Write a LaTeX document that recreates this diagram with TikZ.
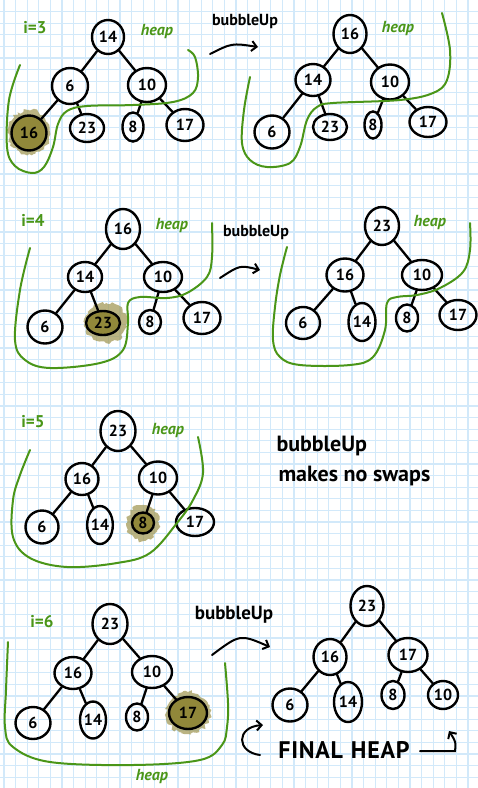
\documentclass[tikz,border=0pt]{standalone}
\usepackage{fontspec}
\setmainfont{PT Sans}
\usetikzlibrary{shapes.geometric,arrows.meta,decorations.pathmorphing}
\definecolor{gridblue}{RGB}{210,233,250}
\definecolor{heapgreen}{RGB}{74,150,24}
\definecolor{hlfill}{RGB}{145,136,58}
\definecolor{hlspray}{RGB}{158,148,78}
\tikzset{
  hn/.style 2 args={draw=black, line width=2.4pt, ellipse, inner sep=0pt,
    minimum width=#1pt, minimum height=#2pt, font=\bfseries\fontsize{16}{16}\selectfont},
  hot/.style={fill=hlfill},
  edge/.style={draw=black, line width=2.3pt, line cap=round},
  gridline/.style={draw=gridblue, line width=1.3pt},
  heapline/.style={draw=heapgreen, line width=2pt, line cap=round, line join=round},
  glabel/.style={text=heapgreen, font=\bfseries\fontsize{17}{17}\selectfont},
  hlabel/.style={text=heapgreen, font=\bfseries\itshape\fontsize{16}{16}\selectfont},
  note/.style={text=black, font=\bfseries\fontsize{16}{16}\selectfont},
  arr/.style={draw=black, line width=2pt, line cap=round,
    -{Straight Barb[length=5pt,width=10pt,line width=2pt]}},
  spray/.style={fill=hlspray, opacity=0.7, decorate,
    decoration={random steps, segment length=2.5pt, amplitude=1.8pt}},
}
\begin{document}
\pgfmathsetseed{7}
\begin{tikzpicture}[x=1pt, y=-1pt]
\useasboundingbox (0,0) rectangle (478,788);
% graph paper
\fill[white] (0,0) rectangle (478,788);
\foreach \k in {0,...,40} \draw[gridline] ({4+11.6*\k},0) -- ({4+11.6*\k},788);
\foreach \k in {1,...,67} \draw[gridline] (0,{11.6*\k}) -- (478,{11.6*\k});

% highlighter marks behind the newly inserted elements
\path[spray] (29,132) ellipse [x radius=21, y radius=22];
\path[spray] (106,323) ellipse [x radius=21, y radius=20];
\path[spray] (143,523) ellipse [x radius=16, y radius=18];
\path[spray] (188,713) ellipse [x radius=22, y radius=21];

% ---------- i = 3 ----------
\node[glabel] (l3) at (35,28) {i=3};
\node[hlabel] (h1) at (157,31) {heap};
\node[hn={32}{34}] (a14) at (108,37) {14};
\node[hn={36}{36}] (a6) at (70,86) {6};
\node[hn={38}{34}] (a10) at (147,85) {10};
\node[hn={35}{35},hot] (a16) at (29,133) {16};
\node[hn={34}{28}] (a23) at (87,128) {23};
\node[hn={21}{29}] (a8) at (133,127) {8};
\node[hn={37}{32}] (a17) at (185,125) {17};
\draw[edge] (a14) -- (a6);
\draw[edge] (a14) -- (a10);
\draw[edge] (a6) -- (a16);
\draw[edge] (a6) -- (a23);
\draw[edge] (a10) -- (a8);
\draw[edge] (a10) -- (a17);
\draw[heapline] plot[smooth, tension=0.6] coordinates {(20,65) (9,100) (7,147) (15,166) (32,173) (44,167) (53,147) (58,124) (67,111) (87,106) (133,105) (173,102) (193,93) (198,77) (195,57) (188,50)};

\node[note] (u1) at (245,21) {bubbleUp};
\coordinate (a1s) at (210,54);
\coordinate (a1e) at (258,47);
\draw[arr] (a1s) .. controls (232,43) .. (a1e);

\node[hlabel] (h2) at (398,28) {heap};
\node[hn={33}{38}] (b16) at (350,34) {16};
\node[hn={35}{32}] (b14) at (313,80) {14};
\node[hn={38}{35}] (b10) at (390,82) {10};
\node[hn={35}{33}] (b6) at (272,132) {6};
\node[hn={34}{26}] (b23) at (330,127) {23};
\node[hn={17}{27}] (b8) at (373,125) {8};
\node[hn={37}{30}] (b17) at (428,122) {17};
\draw[edge] (b16) -- (b14);
\draw[edge] (b16) -- (b10);
\draw[edge] (b14) -- (b6);
\draw[edge] (b14) -- (b23);
\draw[edge] (b10) -- (b8);
\draw[edge] (b10) -- (b17);
\draw[heapline] plot[smooth, tension=0.6] coordinates {(250,77) (244,110) (242,143) (250,160) (267,167) (290,163) (300,147) (307,120) (317,107) (333,103) (400,100) (433,93) (447,80) (450,50) (442,13)};

% ---------- i = 4 ----------
\node[glabel] (l4) at (33,220) {i=4};
\node[hlabel] (h3) at (172,225) {heap};
\node[hn={34}{40}] (c16) at (123,229) {16};
\node[hn={34}{30}] (c14) at (85,277) {14};
\node[hn={38}{30}] (c10) at (163,277) {10};
\node[hn={35}{33}] (c6) at (45,327) {6};
\node[hn={34}{24},hot] (c23) at (103,323) {23};
\node[hn={22}{24}] (c8) at (150,322) {8};
\node[hn={37}{32}] (c17) at (202,318) {17};
\draw[edge] (c16) -- (c14);
\draw[edge] (c16) -- (c10);
\draw[edge] (c14) -- (c6);
\draw[edge] (c14) -- (c23);
\draw[edge] (c10) -- (c8);
\draw[edge] (c10) -- (c17);
\draw[heapline] plot[smooth, tension=0.6] coordinates {(30,248) (20,290) (15,340) (25,360) (50,368) (100,363) (123,350) (128,323) (128,303) (140,297) (167,298) (187,293) (207,277) (212,257) (212,223)};

\node[note] (u2) at (256,232) {bubbleUp};
\coordinate (a2s) at (220,278);
\coordinate (a2e) at (260,270);
\draw[arr] (a2s) .. controls (240,265) .. (a2e);

\node[hlabel] (h4) at (430,222) {heap};
\node[hn={34}{38}] (d23) at (382,226) {23};
\node[hn={37}{33}] (d16) at (345,275) {16};
\node[hn={40}{30}] (d10) at (422,275) {10};
\node[hn={34}{32}] (d6) at (303,323) {6};
\node[hn={27}{38}] (d14) at (362,322) {14};
\node[hn={22}{27}] (d8) at (407,318) {8};
\node[hn={37}{30}] (d17) at (458,315) {17};
\draw[edge] (d23) -- (d16);
\draw[edge] (d23) -- (d10);
\draw[edge] (d16) -- (d6);
\draw[edge] (d16) -- (d14);
\draw[edge] (d10) -- (d8);
\draw[edge] (d10) -- (d17);
\draw[heapline] plot[smooth, tension=0.6] coordinates {(287,247) (280,275) (275,307) (273,340) (280,357) (300,365) (350,365) (373,357) (385,330) (387,303) (397,297) (417,295) (440,288) (463,272) (470,250) (470,223)};

% ---------- i = 5 ----------
\node[glabel] (l5) at (33,422) {i=5};
\node[hlabel] (h5) at (168,430) {heap};
\node[hn={35}{40}] (e23) at (118,431) {23};
\node[hn={33}{32}] (e16) at (82,479) {16};
\node[hn={38}{33}] (e10) at (158,478) {10};
\node[hn={33}{33}] (e6) at (42,527) {6};
\node[hn={23}{38}] (e14) at (100,525) {14};
\node[hn={22}{21},hot] (e8) at (143,523) {8};
\node[hn={38}{28}] (e17) at (195,522) {17};
\draw[edge] (e23) -- (e16);
\draw[edge] (e23) -- (e10);
\draw[edge] (e16) -- (e6);
\draw[edge] (e16) -- (e14);
\draw[edge] (e10) -- (e8);
\draw[edge] (e10) -- (e17);
\draw[heapline] plot[smooth, tension=0.6] coordinates {(30,450) (20,475) (13,500) (13,537) (30,558) (67,567) (117,563) (150,553) (177,523) (193,500) (203,473) (198,437)};

\node[note, font=\bfseries\fontsize{22}{22}\selectfont, anchor=west] (u3) at (273,446) {bubbleUp};
\node[note, font=\bfseries\fontsize{22}{22}\selectfont, anchor=west] (u3b) at (275,476) {makes no swaps};

% ---------- i = 6 ----------
\node[glabel] (l6) at (42,622) {i=6};
\node[hlabel] (h6) at (152,776) {heap};
\node[hn={35}{40}] (f23) at (110,624) {23};
\node[hn={37}{32}] (f16) at (73,673) {16};
\node[hn={40}{32}] (f10) at (152,672) {10};
\node[hn={35}{32}] (f6) at (33,723) {6};
\node[hn={26}{37}] (f14) at (93,720) {14};
\node[hn={22}{27}] (f8) at (137,717) {8};
\node[hn={38}{32},hot] (f17) at (188,713) {17};
\draw[edge] (f23) -- (f16);
\draw[edge] (f23) -- (f10);
\draw[edge] (f16) -- (f6);
\draw[edge] (f16) -- (f14);
\draw[edge] (f10) -- (f8);
\draw[edge] (f10) -- (f17);
\draw[heapline] plot[smooth, tension=0.6] coordinates {(8,642) (6,690) (5,727) (13,747) (50,762) (133,765) (200,760) (222,745) (227,727) (228,703) (225,663)};

\node[note, font=\bfseries\fontsize{19}{19}\selectfont] (u4) at (234,615) {bubbleUp};
\coordinate (a3s) at (212,655);
\coordinate (a3e) at (270,647);
\draw[arr] (a3s) .. controls (240,634) .. (a3e);

\node[hn={33}{40}] (g23) at (367,606) {23};
\node[hn={33}{36}] (g16) at (330,657) {16};
\node[hn={39}{34}] (g17) at (408,655) {17};
\node[hn={35}{33}] (g6) at (290,705) {6};
\node[hn={28}{40}] (g14) at (348,702) {14};
\node[hn={23}{28}] (g8) at (393,695) {8};
\node[hn={30}{28}] (g10) at (443,695) {10};
\draw[edge] (g23) -- (g16);
\draw[edge] (g23) -- (g17);
\draw[edge] (g16) -- (g6);
\draw[edge] (g16) -- (g14);
\draw[edge] (g17) -- (g8);
\draw[edge] (g17) -- (g10);

\node[note, font=\bfseries\fontsize{24}{24}\selectfont, text width=150pt, align=center] (fin) at (344,750) {\addfontfeature{LetterSpace=3}FINAL HEAP};
\coordinate (c1s) at (260,755);
\coordinate (c1e) at (263,725);
\draw[arr] (c1s) .. controls (236,752) and (236,727) .. (c1e);
\coordinate (c2s) at (420,751);
\coordinate (c2m) at (455,751);
\coordinate (c2e) at (449,731);
\draw[arr] (c2s) -- (c2m) .. controls (456,742) .. (c2e);
\end{tikzpicture}
\end{document}
